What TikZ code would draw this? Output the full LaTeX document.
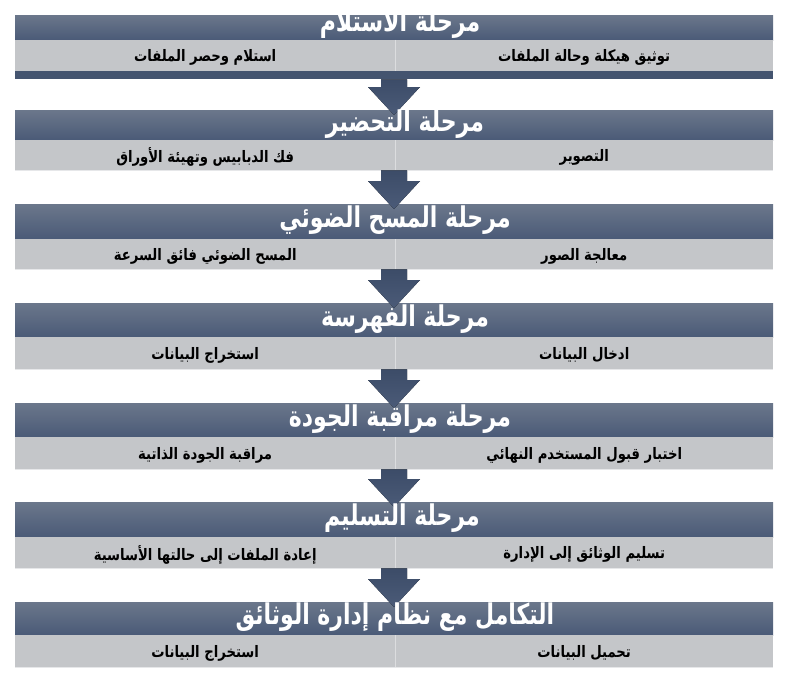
\documentclass[tikz,border=0pt]{standalone}
\usepackage{graphicx}
\usepackage{fontspec}
\newfontfamily\arfont[Script=Arabic]{DejaVu Sans}
\TeXXeTstate=1
\usetikzlibrary{calc}
\definecolor{hdrTop}{HTML}{6B778B}
\definecolor{hdrBot}{HTML}{4A5A77}
\definecolor{cellGray}{HTML}{C4C6C9}
\definecolor{sepGray}{HTML}{DCDDDF}
\definecolor{arrTop}{HTML}{3C4C68}
\definecolor{arrBot}{HTML}{4B5B78}
\definecolor{stripC}{HTML}{44546F}
\tikzset{
  hdr/.style={draw=none, top color=hdrTop, bottom color=hdrBot, minimum width=758pt, inner sep=0pt, anchor=north west},
  cellbox/.style={draw=none, fill=cellGray, inner sep=0pt, anchor=north west},
  ttl/.style={text=white, inner sep=0pt, font=\arfont\bfseries\fontsize{22}{25}\selectfont},
  ctext/.style={text=black, inner sep=0pt, font=\arfont\bfseries\fontsize{13.2}{15}\selectfont},
  arr/.style={top color=arrTop, bottom color=arrBot, draw=none},
  sepline/.style={draw=sepGray, line width=1pt}
}
\newcommand{\tall}[2]{\scalebox{1}[#1]{#2}}
\newcommand{\stagebox}[6]{%
  % #1 index, #2 top, #3 header bottom, #4 gray bottom, #5 right text, #6 left text
  \node[hdr, minimum height=#3-#2] (h#1) at (15,#2) {};
  \node[cellbox, minimum width=380pt, minimum height=#4-#3] (l#1) at (15,#3) {};
  \node[cellbox, minimum width=378pt, minimum height=#4-#3] (r#1) at (395,#3) {};
  \draw[sepline] (l#1.north east) -- (l#1.south east);
  \draw[draw=sepGray!70!white, line width=0.8pt] (l#1.south west) -- (r#1.south east);
  \node[ctext] (rt#1) at ($(r#1.center)+(0,-2pt)$) {\tall{1.2}{#5}};
  \node[ctext] (lt#1) at ($(l#1.center)+(0,-2pt)$) {\tall{1.2}{#6}};
}
\newcommand{\stagearrow}[2]{%
  \fill[arr] let \p1=(#1.south), \p2=(#2.north) in
    (381pt,\y1) -- (407pt,\y1) -- (407pt,\y2+23pt) -- (420pt,\y2+23pt) --
    (394pt,\y2-5pt) -- (368pt,\y2+23pt) -- (381pt,\y2+23pt) -- cycle;
}
\begin{document}
\begin{tikzpicture}[x=1pt,y=-1pt]
\useasboundingbox[fill=white] (0,0) rectangle (789,677);

\stagebox{1}{15}{40}{71}{\beginR توثيق هيكلة وحالة الملفات\endR}{\beginR استلام وحصر الملفات\endR}
\node[draw=none, fill=stripC, minimum width=758pt, minimum height=8pt, inner sep=0pt, anchor=north west] (d1) at (15,71) {};
\stagebox{2}{110}{140}{170}{\beginR التصوير\endR}{\beginR فك الدبابيس وتهيئة الأوراق\endR}
\stagebox{3}{204}{239}{269}{\beginR معالجة الصور\endR}{\beginR المسح الضوئي فائق السرعة\endR}
\stagebox{4}{303}{337}{369}{\beginR ادخال البيانات\endR}{\beginR استخراج البيانات\endR}
\stagebox{5}{403}{437}{469}{\beginR اختبار قبول المستخدم النهائي\endR}{\beginR مراقبة الجودة الذاتية\endR}
\stagebox{6}{502}{537}{568}{\beginR تسليم الوثائق إلى الإدارة\endR}{\beginR إعادة الملفات إلى حالتها الأساسية\endR}
\stagebox{7}{602}{635}{667}{\beginR تحميل البيانات\endR}{\beginR استخراج البيانات\endR}

\stagearrow{d1}{h2}
\stagearrow{r2}{h3}
\stagearrow{r3}{h4}
\stagearrow{r4}{h5}
\stagearrow{r5}{h6}
\stagearrow{r6}{h7}

\node[ttl] (t1) at (400,24) {\tall{1.3}{\beginR مرحلة الاستلام\endR}};
\node[ttl] (t2) at (405,124) {\tall{1.3}{\beginR مرحلة التحضير\endR}};
\node[ttl] (t3) at (395,220) {\tall{1.3}{\beginR مرحلة المسح الضوئي\endR}};
\node[ttl] (t4) at (405,319) {\tall{1.3}{\beginR مرحلة الفهرسة\endR}};
\node[ttl] (t5) at (400,419) {\tall{1.3}{\beginR مرحلة مراقبة الجودة\endR}};
\node[ttl] (t6) at (402,518) {\tall{1.3}{\beginR مرحلة التسليم\endR}};
\node[ttl] (t7) at (395,617) {\tall{1.3}{\beginR التكامل مع نظام إدارة الوثائق\endR}};
\end{tikzpicture}
\end{document}
